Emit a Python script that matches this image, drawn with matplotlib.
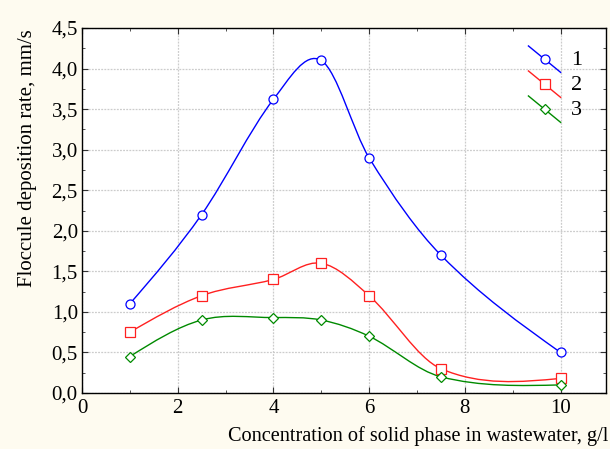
import matplotlib
matplotlib.use("Agg")
import matplotlib.pyplot as plt
import numpy as np
from matplotlib.path import Path
from matplotlib.patches import PathPatch
from matplotlib.lines import Line2D
from matplotlib.legend_handler import HandlerLine2D
from matplotlib.ticker import MultipleLocator, FuncFormatter

# ---------------------------------------------------------------------------
# Data
# ---------------------------------------------------------------------------
concentration = [1.0, 2.5, 4.0, 5.0, 6.0, 7.5, 10.0]
rate_1 = [1.10, 2.20, 3.62, 4.10, 2.90, 1.70, 0.50]
rate_2 = [0.75, 1.20, 1.40, 1.60, 1.20, 0.30, 0.18]
rate_3 = [0.45, 0.90, 0.93, 0.90, 0.70, 0.20, 0.10]
series_labels = ["1", "2", "3"]

BG = "#fefbf0"


def local_slopes(x, y):
    """Catmull-Rom style slopes, natural-ish at the ends."""
    x = np.asarray(x, float)
    y = np.asarray(y, float)
    m = np.empty(len(x))
    m[1:-1] = (y[2:] - y[:-2]) / (x[2:] - x[:-2])
    s0 = (y[1] - y[0]) / (x[1] - x[0])
    s1 = (y[-1] - y[-2]) / (x[-1] - x[-2])
    m[0] = 1.5 * s0 - 0.5 * m[1]
    m[-1] = 1.5 * s1 - 0.5 * m[-2]
    return m


def smooth_path(x, y):
    """Bezier path through the points (the way the original draws it)."""
    m = local_slopes(x, y)
    verts = [(x[0], y[0])]
    codes = [Path.MOVETO]
    for i in range(len(x) - 1):
        h = x[i + 1] - x[i]
        verts += [(x[i] + h / 3, y[i] + m[i] * h / 3),
                  (x[i + 1] - h / 3, y[i + 1] - m[i + 1] * h / 3),
                  (x[i + 1], y[i + 1])]
        codes += [Path.CURVE4] * 3
    return Path(verts, codes)


class DiagonalHandler(HandlerLine2D):
    def create_artists(self, legend, orig_handle, xdescent, ydescent,
                       width, height, fontsize, trans):
        line = Line2D([-xdescent, width - xdescent],
                      [height * 1.25 - ydescent, -height * 0.45 - ydescent],
                      color=orig_handle.get_color(), lw=orig_handle.get_linewidth())
        mark = Line2D([(width - xdescent * 2) / 2], [height * 0.4 - ydescent],
                      marker=orig_handle.get_marker(), ls="none",
                      markersize=orig_handle.get_markersize(),
                      markerfacecolor="white",
                      markeredgecolor=orig_handle.get_markeredgecolor(),
                      markeredgewidth=orig_handle.get_markeredgewidth())
        for a in (line, mark):
            a.set_transform(trans)
        return [line, mark]


plt.rcParams["font.family"] = ["Liberation Serif", "DejaVu Serif"]

fig = plt.figure(figsize=(6.1, 4.49), dpi=100, facecolor=BG)
ax = fig.add_axes([0.1344, 0.1247, 0.8590, 0.8129])
ax.set_facecolor("white")

styles = [("#0000ff", "o", 6.5), ("#ff2020", "s", 6.5), ("#008a00", "D", 5.0)]
handles = []
for yvals, (color, marker, ms), label in zip([rate_1, rate_2, rate_3], styles, series_labels):
    ax.add_patch(PathPatch(smooth_path(concentration, yvals), facecolor="none",
                           edgecolor=color, lw=1.0, zorder=3))
    h, = ax.plot(concentration, yvals, ls="none", marker=marker, ms=ms,
                 markerfacecolor="white", markeredgecolor=color,
                 markeredgewidth=0.9, color=color, zorder=4, label=label)
    h.set_linewidth(1.0)
    handles.append(h)

ax.set_xlim(0, 10.95)
ax.set_ylim(0, 4.5)
ax.xaxis.set_major_locator(MultipleLocator(2))
ax.xaxis.set_minor_locator(MultipleLocator(1))
ax.yaxis.set_major_locator(MultipleLocator(0.5))
ax.yaxis.set_minor_locator(MultipleLocator(0.25))
ax.yaxis.set_major_formatter(FuncFormatter(lambda v, p: f"{v:.1f}".replace(".", ",")))

ax.grid(True, which="major", color="#cccccc", ls=(0, (1.5, 1)), lw=0.9, zorder=0)
ax.tick_params(which="both", direction="in", top=True, right=True,
               labelsize=15, color="#333333")
ax.tick_params(which="major", length=4)
ax.tick_params(which="minor", length=2)
ax.tick_params(axis="x", pad=4)
ax.tick_params(axis="y", pad=3)
for s in ax.spines.values():
    s.set_linewidth(1.0)
    s.set_color("black")

fig.text(28 / 610, 1 - 158 / 449, "Floccule deposition rate, mm/s",
         fontsize=15, rotation=90, ha="center", va="center")
fig.text(0.998, 0.006, "Concentration of solid phase in wastewater, g/l",
         fontsize=14.6, ha="right", va="bottom")

leg = ax.legend(handles=handles, loc="upper right", bbox_to_anchor=(0.992, 0.995),
                frameon=False, fontsize=16, handlelength=1.45, handletextpad=0.45,
                labelspacing=0.2,
                handler_map={Line2D: DiagonalHandler()})

fig.savefig("out.png", dpi=100, facecolor=BG)
